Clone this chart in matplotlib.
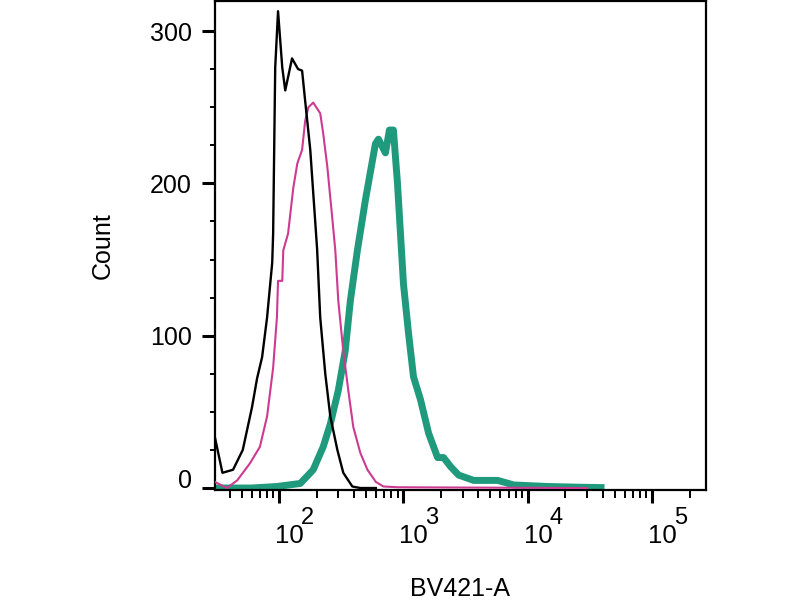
import matplotlib
matplotlib.use("Agg")
import matplotlib.pyplot as plt
from matplotlib.ticker import FixedLocator, NullFormatter
from matplotlib.transforms import blended_transform_factory, offset_copy

plt.rcParams['font.family'] = ['Liberation Sans', 'DejaVu Sans']

# ---- data ----
teal_x = [30, 60, 96, 148, 188, 226, 258, 299, 340, 374, 426, 494, 595, 629, 716,
          771, 830, 895, 946, 1000, 1097, 1204, 1371, 1592, 1881, 2102, 2395,
          2777, 3673, 5731, 7707, 14500, 26700, 38800]
teal_y = [0, 0, 1, 3, 12, 27, 42, 64, 90, 123, 156, 189, 226, 229, 220,
          235, 235, 200, 167, 134, 102, 73, 58, 36, 20, 20, 14,
          8.5, 5, 5, 2, 1, 0.5, 0.3]

magenta_x = [28, 30.5, 38, 46, 58, 70, 80, 89.5, 96, 98, 106, 108, 118, 130, 140,
             153, 162, 172, 188, 214, 226, 244, 267, 283, 299, 328, 360, 395, 450,
             513, 600, 690, 900, 3000, 30000]
magenta_y = [6, 4, 0, 5, 16, 27, 47, 79, 112, 136, 136, 156, 167, 197, 213,
             222, 241, 250, 253, 246, 233, 211, 178, 156, 123, 90, 64, 40, 23,
             12, 4, 1, 0.5, 0.3, 0]

black_x = [28, 30.5, 35, 42.6, 51, 60.5, 66.5, 73, 80, 88, 89.5, 93, 98, 106, 112,
           127, 142, 153, 162, 178, 202, 214, 235, 258, 294, 328, 388, 450, 600]
black_y = [45, 33, 10, 12, 25, 53, 72, 86, 112, 148, 167, 276, 313, 276, 261,
           282, 275, 274, 254, 222, 157, 112, 75, 47, 25, 10, 1, 0, 0]

x_major = [1e2, 1e3, 1e4, 1e5]
x_major_exp = ['2', '3', '4', '5']
x_minor = [m * 10 ** d for d in range(1, 6) for m in range(2, 10)]
y_major = [0, 100, 200, 300]
y_minor = [v for v in range(25, 320, 25) if v % 100 != 0]

fig = plt.figure(figsize=(8, 6), dpi=100)
ax = fig.add_axes([215 / 800, 110 / 600, 491 / 800, 489 / 600])

ax.plot(teal_x, teal_y, color='#1f9a7c', lw=5.0, solid_joinstyle='round', zorder=2)
ax.plot(magenta_x, magenta_y, color='#cc3a92', lw=1.5, zorder=3)
ax.plot(black_x, black_y, color='black', lw=1.7, zorder=4)

ax.set_xscale('log')
ax.set_xlim(30.5, 271000)
ax.set_ylim(-1.3, 319.7)

for s in ax.spines.values():
    s.set_linewidth(1.6)
    s.set_color('black')

ax.xaxis.set_major_locator(FixedLocator(x_major))
ax.xaxis.set_minor_locator(FixedLocator(x_minor))
ax.xaxis.set_major_formatter(NullFormatter())
ax.xaxis.set_minor_formatter(NullFormatter())
ax.yaxis.set_major_locator(FixedLocator(y_major))
ax.yaxis.set_minor_locator(FixedLocator(y_minor))
ax.set_yticklabels([str(v) for v in y_major])

ax.tick_params(axis='x', which='major', direction='out', length=9.5, width=2.2)
ax.tick_params(axis='x', which='minor', direction='out', length=6, width=1.4)
ax.tick_params(axis='y', which='major', direction='out', length=9.5, width=2.2,
               labelsize=18, pad=7)
ax.tick_params(axis='y', which='minor', direction='out', length=3.8, width=1.4)

# the "0" label sits above its tick in the reference
ax.get_yticklabels()[0].set_verticalalignment('baseline')

# x tick labels as 10 with a large superscript
trans = blended_transform_factory(ax.transData, ax.transAxes)
for v, e in zip(x_major, x_major_exp):
    t1 = offset_copy(trans, fig=fig, x=-3.0, y=-38.2, units='points')
    ax.text(v, 0, '10', transform=t1, ha='left', va='baseline', fontsize=18.5,
            clip_on=False)
    t2 = offset_copy(trans, fig=fig, x=15.8, y=-24.5, units='points')
    ax.text(v, 0, e, transform=t2, ha='left', va='baseline', fontsize=17,
            clip_on=False)

ax.set_xlabel('BV421-A', fontsize=18, va='baseline')
ax.xaxis.set_label_coords(0.5, -106 / 489)
ax.set_ylabel('Count', fontsize=18, va='center')
ax.yaxis.set_label_coords(-112 / 491, 0.5)

fig.savefig('out.png', dpi=100)
